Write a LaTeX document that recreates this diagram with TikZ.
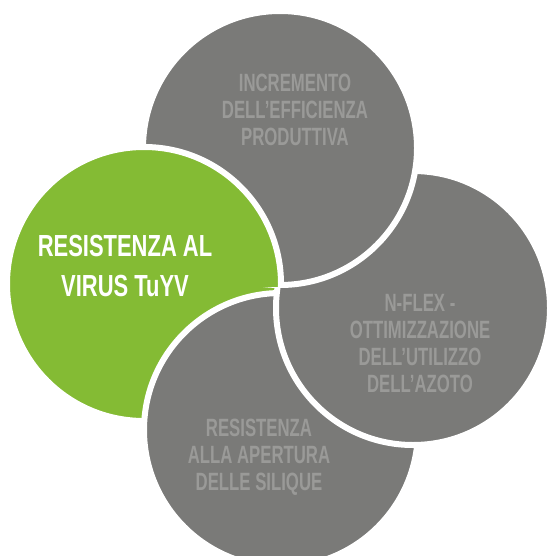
\documentclass[tikz,border=0pt]{standalone}
\usepackage{fontspec}
\newfontfamily\grayfont[FakeStretch=0.67]{Liberation Sans}
\newfontfamily\greenfont[FakeStretch=0.72]{Liberation Sans}
\definecolor{cgray}{RGB}{122,122,120}
\definecolor{cgreen}{RGB}{132,187,52}
\definecolor{ctext}{RGB}{154,154,152}
\begin{document}
\begin{tikzpicture}[x=1pt,y=-1pt,
  disc/.style={circle, inner sep=0pt, outer sep=0pt, minimum size=274pt, draw=white, line width=6pt},
  graydisc/.style={disc, fill=cgray},
  greendisc/.style={disc, fill=cgreen},
  graylabel/.style={inner sep=0pt, align=center, text=ctext, font=\grayfont\bfseries\fontsize{25}{27}\selectfont},
  greenlabel/.style={inner sep=0pt, align=center, text=white, font=\greenfont\bfseries\fontsize{30.5}{40}\selectfont}]
\useasboundingbox (0,0) rectangle (551,556);
\clip (0,0) rectangle (551,556);
% discs, drawn in cyclic overlap order
\node[greendisc] (left) at (144,284) {};
\node[graydisc] (bottom) at (281,430) {};
\node[graydisc] (right) at (413,308) {};
\node[graydisc] (top) at (280,148) {};
\begin{scope}
  \clip (0,0) rectangle (551,286);
  \clip (280,148) circle (144);
  \node[greendisc] (leftover) at (144,284) {};
\end{scope}
% labels
\node[graylabel] (ttop) at (295,110) {INCREMENTO\\DELL’EFFICIENZA\\PRODUTTIVA};
\node[graylabel] (tright) at (420,344) {N-FLEX -\\OTTIMIZZAZIONE\\DELL’UTILIZZO\\DELL’AZOTO};
\node[graylabel] (tbottom) at (259,457) {RESISTENZA\\ALLA APERTURA\\DELLE SILIQUE};
\node[greenlabel] (tleft) at (125,266) {RESISTENZA AL\\VIRUS TuYV};
\end{tikzpicture}
\end{document}
